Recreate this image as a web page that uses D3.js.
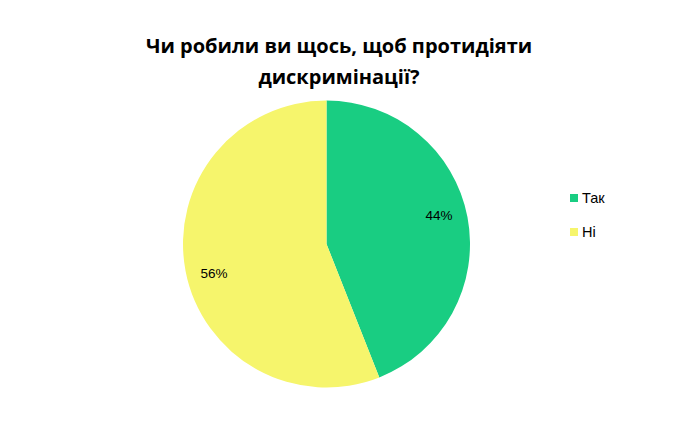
<!DOCTYPE html>
<html>
<head>
<meta charset="utf-8">
<script src="https://cdn.jsdelivr.net/npm/d3@7"></script>
<style>
    body { margin: 0; background: #fff; }
</style>
</head>
<body>
<div class="pie_container"></div>
<script>
    // data
    var categories = ["Так", "Ні"]
    var values = [44, 56]
    var colors = ["#19CD82", "#F6F56C"]
    var title_lines = ["Чи робили ви щось, щоб протидіяти", "дискримінації?"]

    var w = 680
    var h = 427
    var cx = 326.5
    var cy = 244
    var r = 143.5

    var svg = d3.select('.pie_container')
                .append('svg')
                .attr('width', w)
                .attr('height', h);

    //title
    svg.append('text')
        .attr('x', 339)
        .attr('y', 53)
        .style('font-family', '"Open Sans", sans-serif')
        .style('font-weight', 'bold')
        .style('font-size', '20px')
        .style('text-anchor', 'middle')
        .selectAll('tspan')
        .data(title_lines)
        .enter()
        .append('tspan')
        .attr('x', 339)
        .attr('dy', (d, i) => i == 0 ? 0 : 31)
        .text(d => d);

    var color_scale = d3.scaleOrdinal()
                        .domain(categories)
                        .range(colors);

    var pie = d3.pie()
                .sort(null)
                .value(d => d.value);
    var arcs = pie(categories.map((c, i) => ({cat: c, value: values[i]})));

    var arc = d3.arc().innerRadius(0).outerRadius(r);
    //labels sit a little counter-clockwise of the slice middle
    var label_shift = -0.065
    var label_arc = d3.arc().innerRadius(r * 0.81).outerRadius(r * 0.81)
                        .startAngle(d => d.startAngle + label_shift)
                        .endAngle(d => d.endAngle + label_shift);

    var g = svg.append('g')
                .attr('transform', 'translate(' + cx + ',' + cy + ')');

    g.selectAll('.slice')
        .data(arcs)
        .enter()
        .append('path')
        .attr('class', 'slice')
        .attr('d', arc)
        .style('fill', d => color_scale(d.data.cat));

    g.selectAll('.pct')
        .data(arcs)
        .enter()
        .append('text')
        .attr('class', 'pct')
        .attr('transform', d => 'translate(' + label_arc.centroid(d) + ')')
        .attr('dy', '0.35em')
        .style('text-anchor', 'middle')
        .style('font-family', '"Liberation Sans", Arial, sans-serif')
        .style('font-size', '13.5px')
        .text(d => d.data.value + '%');

    //legend
    var legend = svg.selectAll('.legend_item')
                    .data(categories)
                    .enter()
                    .append('g')
                    .attr('class', 'legend_item')
                    .attr('transform', (d, i) => 'translate(570,' + (194 + i * 34) + ')');
    legend.append('rect')
        .attr('width', 8)
        .attr('height', 8)
        .style('fill', d => color_scale(d));
    legend.append('text')
        .attr('x', 12)
        .attr('y', 4)
        .attr('dy', '0.35em')
        .style('font-family', '"Liberation Sans", Arial, sans-serif')
        .style('font-size', '14.5px')
        .text(d => d);
</script>
</body>
</html>
